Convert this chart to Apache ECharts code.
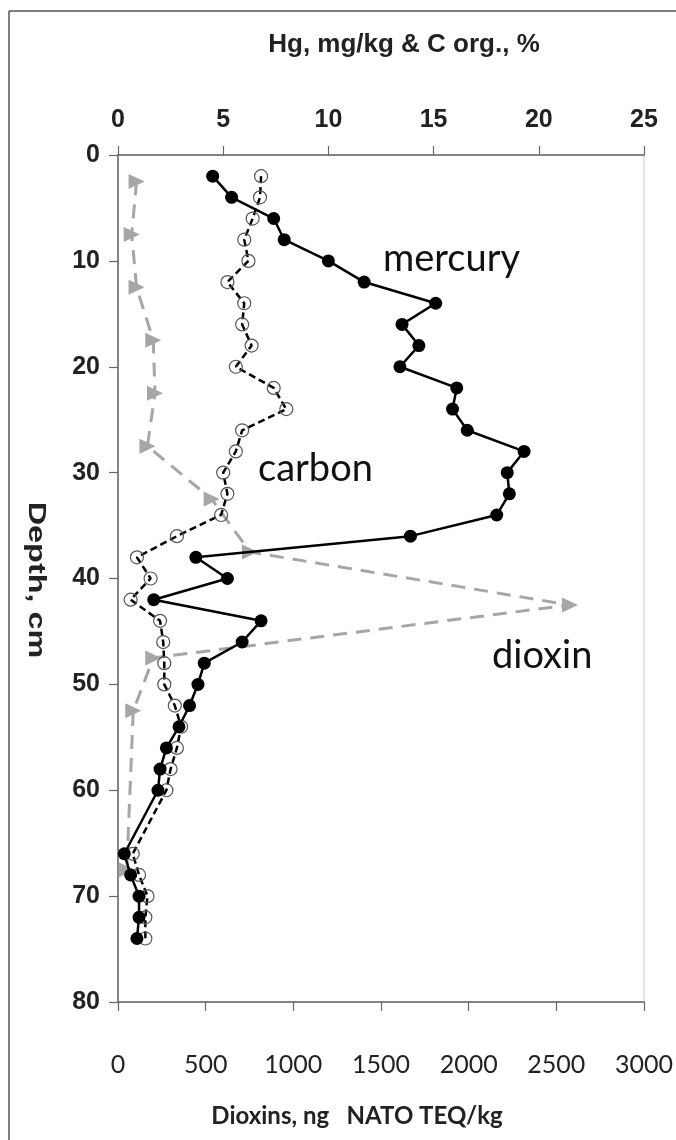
<!DOCTYPE html>
<html>
<head>
<meta charset="utf-8">
<script src="https://cdn.jsdelivr.net/npm/echarts@6/dist/echarts.min.js"></script>
<style>
html,body{margin:0;padding:0;background:#fff;}
#chart{width:676px;height:1140px;}
</style>
</head>
<body>
<div id="chart"></div>
<script>
// Depths (cm) for mercury and carbon samples
const depthHgC = [2,4,6,8,10,12,14,16,18,20,22,24,26,28,30,32,34,36,38,40,42,44,46,48,50,52,54,56,58,60,66,68,70,72,74];
// Mercury, mg/kg (top axis)
const mercury = [4.5,5.4,7.4,7.9,10.0,11.7,15.1,13.5,14.3,13.4,16.1,15.9,16.6,19.3,18.5,18.6,18.0,13.9,3.7,5.2,1.7,6.8,5.9,4.1,3.8,3.4,2.9,2.3,2.0,1.9,0.3,0.6,1.0,1.0,0.9];
// Organic carbon, % (top axis)
const carbon = [6.8,6.75,6.4,6.0,6.2,5.2,6.0,5.9,6.35,5.6,7.4,8.0,5.9,5.6,5.0,5.2,4.9,2.8,0.9,1.55,0.6,2.0,2.15,2.2,2.2,2.7,3.0,2.8,2.5,2.3,0.7,1.0,1.4,1.3,1.3];
// Dioxins, ng NATO TEQ/kg (bottom axis)
const depthDiox = [2.5,7.5,12.5,17.5,22.5,27.5,32.5,37.5,42.5,47.5,52.5,67.5];
const dioxin = [106,78,106,201,211,168,534,753,2578,201,87,50];
// Axis settings
const topTicks = {min:0, max:25, interval:5};
const bottomTicks = {min:0, max:3000, interval:500};
const depthTicks = {min:0, max:80, interval:10};

const chart = echarts.init(document.getElementById('chart'), null, {renderer:'canvas'});
const boldFont = '"Liberation Sans", Arial, sans-serif';
const calFont = 'Lato, "Open Sans", sans-serif';

const option = {
  animation:false,
  backgroundColor:'#fff',
  grid:{left:118, top:155, width:526, height:847, show:true, borderColor:'#c8c8c8', borderWidth:1, containLabel:false},
  xAxis:[
    {type:'value', position:'top', min:topTicks.min, max:topTicks.max, interval:topTicks.interval,
     axisLine:{show:true, onZero:false, lineStyle:{color:'#666', width:1.5}},
     axisTick:{show:true, length:9, lineStyle:{color:'#666', width:1.2}},
     axisLabel:{fontFamily:boldFont, fontWeight:'bold', fontSize:25, color:'#222', margin:22},
     splitLine:{show:false}},
    {type:'value', position:'bottom', min:bottomTicks.min, max:bottomTicks.max, interval:bottomTicks.interval,
     axisLine:{show:true, onZero:false, lineStyle:{color:'#666', width:1.5}},
     axisTick:{show:true, length:9, lineStyle:{color:'#666', width:1.2}},
     axisLabel:{fontFamily:calFont, fontSize:25, color:'#222', margin:50, formatter:(v)=>String(v)},
     splitLine:{show:false}}
  ],
  yAxis:[{type:'value', inverse:true, min:depthTicks.min, max:depthTicks.max, interval:depthTicks.interval,
     axisLine:{show:true, onZero:false, lineStyle:{color:'#666', width:1.5}},
     axisTick:{show:true, length:9, lineStyle:{color:'#666', width:1.2}},
     axisLabel:{fontFamily:boldFont, fontWeight:'bold', fontSize:25, color:'#222', margin:18},
     splitLine:{show:false}}],
  series:[
    {name:'dioxin', type:'line', xAxisIndex:1, yAxisIndex:0,
     data: depthDiox.map((d,i)=>[dioxin[i], d]),
     symbol:'triangle', symbolSize:[15,16], symbolRotate:-90,
     itemStyle:{color:'#a6a6a6'},
     lineStyle:{color:'#a6a6a6', width:3, type:[14,9]}, z:2},
    {name:'carbon', type:'line', xAxisIndex:0, yAxisIndex:0,
     data: depthHgC.map((d,i)=>[carbon[i], d]),
     symbol:'circle', symbolSize:13,
     itemStyle:{color:'rgba(255,255,255,0)', borderColor:'#555', borderWidth:1.2},
     lineStyle:{color:'#000', width:2.5, type:[7,4]}, z:3},
    {name:'mercury', type:'line', xAxisIndex:0, yAxisIndex:0,
     data: depthHgC.map((d,i)=>[mercury[i], d]),
     symbol:'circle', symbolSize:13,
     itemStyle:{color:'#000'},
     lineStyle:{color:'#000', width:2.5}, z:4}
  ],
  graphic:[
    {type:'line', shape:{x1:9, y1:11, x2:9, y2:1140}, style:{stroke:'#555', lineWidth:1.5}},
    {type:'line', shape:{x1:9, y1:11, x2:676, y2:11}, style:{stroke:'#555', lineWidth:1.5}},
    {type:'text', x:404, y:45, style:{text:'Hg, mg/kg & C org., %', font:'bold 26px "Liberation Sans", Arial, sans-serif', fill:'#222', textAlign:'center', textVerticalAlign:'middle'}},
    {type:'text', x:36, y:580, rotation:-Math.PI/2, scaleX:1.35, style:{text:'Depth, cm', font:'bold 24px "Liberation Sans", Arial, sans-serif', fill:'#222', textAlign:'center', textVerticalAlign:'middle'}},
    {type:'text', x:357, y:1116, style:{text:'Dioxins, ng   NATO TEQ/kg', font:'bold 24px Lato, "Open Sans", sans-serif', fill:'#222', textAlign:'center', textVerticalAlign:'middle'}},
    {type:'text', x:383, y:259, style:{text:'mercury', font:'38px Lato, "Open Sans", sans-serif', fill:'#111', textVerticalAlign:'middle'}},
    {type:'text', x:258, y:469, style:{text:'carbon', font:'38px Lato, "Open Sans", sans-serif', fill:'#111', textVerticalAlign:'middle'}},
    {type:'text', x:492, y:656, style:{text:'dioxin', font:'38px Lato, "Open Sans", sans-serif', fill:'#111', textVerticalAlign:'middle'}}
  ]
};
chart.setOption(option);
</script>
</body>
</html>
